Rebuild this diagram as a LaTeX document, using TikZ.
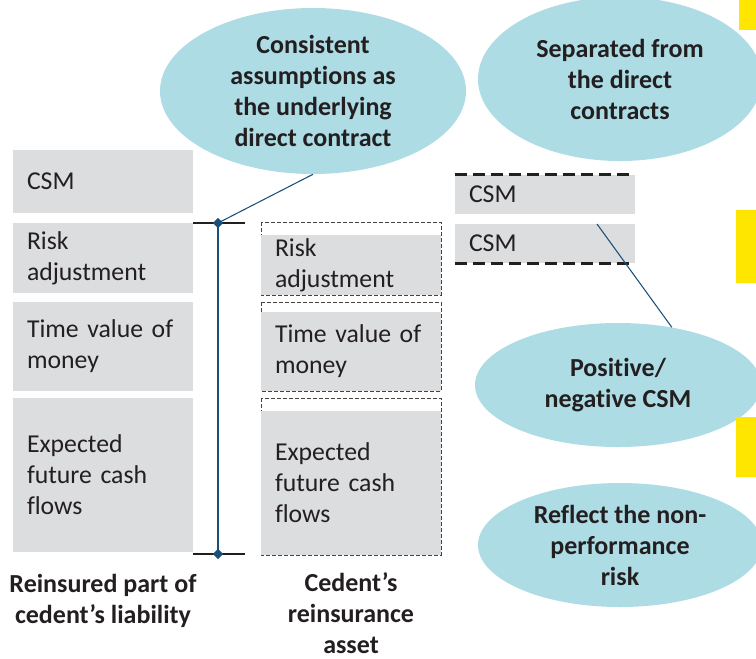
\documentclass[tikz,border=0pt]{standalone}
\usepackage{fontspec}
\setmainfont{Carlito}[Ligatures={NoCommon,NoContextual,NoRequired}]
\usetikzlibrary{shapes,calc}
\definecolor{boxgray}{HTML}{DCDDDF}
\definecolor{bubblefill}{HTML}{ADDCE5}
\definecolor{linkblue}{HTML}{1A4F7A}
\definecolor{ink}{HTML}{231F20}
\definecolor{marker}{HTML}{FFE600}
\tikzstyle{item}=[rectangle,fill=boxgray,minimum width=135pt,text width=114pt,inner xsep=10.5pt,inner ysep=0pt,align=left,text=ink,font=\fontsize{19.3}{23.25}\selectfont]
\tikzstyle{note}=[ellipse,fill=bubblefill,inner sep=-8pt,align=center,text=ink,font=\bfseries\fontsize{19.5}{23.25}\selectfont]
\tikzstyle{caption}=[align=center,inner sep=0pt,text=ink,font=\bfseries\fontsize{19.5}{23.25}\selectfont]
\tikzstyle{dashbox}=[draw=ink!85,dash pattern=on 3pt off 1.5pt,line width=0.6pt]
\tikzstyle{bigdash}=[draw=ink,dash pattern=on 9pt off 4.5pt,line width=2.2pt]
\tikzstyle{link}=[draw=linkblue,line width=0.8pt]
\tikzstyle{endmark}=[diamond,fill=linkblue,minimum size=8pt,inner sep=0pt]

\begin{document}
\begin{tikzpicture}[x=0.75pt,y=-0.75pt]

   \useasboundingbox (0,0) rectangle (756,658);

    % reinsured part of the liability
    \foreach \pos/ \name / \hgt / \label in {(103,181.5)/lcsm/47.25pt/CSM,
        (103,258)/lrisk/52.5pt/{Risk\\adjustment},
        (103,346.5)/ltime/66.75pt/{Time value of\\money},
        (103,475)/lcash/115.5pt/{Expected\\future cash\\flows}}
        \node[item,minimum height=\hgt] (\name) at \pos {\label};

    % reinsurance asset, dashed frames first
    \foreach \ya/ \yb in {222/295, 302/391, 398/555}
        \draw[dashbox] (261,\ya) rectangle (441,\yb);
    \foreach \pos/ \name / \hgt / \label in {(351,265)/mrisk/45pt/{Risk\\adjustment},
        (351,351.5)/mtime/59.25pt/{Time value of\\money},
        (351,483)/mcash/108pt/{Expected\\future cash\\flows}}
        \node[item,minimum height=\hgt] (\name) at \pos {\label};

    % the two CSM boxes
    \foreach \pos/ \name in {(545,194.5)/rcsmA, (545,243.5)/rcsmB}
        \node[item,minimum height=29.25pt] (\name) at \pos {CSM};
    \draw[bigdash] (rcsmA.north west) -- ++(175,0);
    \draw[bigdash] (rcsmB.south west) -- ++(175,0);

    % bubbles (kern keeps t and i apart)
    \node[note,minimum width=229.5pt,minimum height=124.5pt] (consistent) at (313,91)
        {Consistent\\assump\kern0pt t\kern0pt ions as\\the underlying\\direct contract};
    \node[note,minimum width=213pt,minimum height=123pt] (separated) at (620,79)
        {Separated from\\the direct\\contracts};
    \node[note,minimum width=214.5pt,minimum height=93pt] (posneg) at (618,385)
        {Positive/\\negat\kern0pt ive CSM};
    \node[note,minimum width=213pt,minimum height=93pt] (nonperf) at (620,545)
        {Reflect the non-\\performance\\risk};

    % bracket over the reinsured part
    \coordinate (brtop) at (218,223);
    \coordinate (brbot) at (218,554);
    \draw[ink,line width=2.2pt] (brtop) ++(-25,0) -- ++(52,0);
    \draw[ink,line width=2.2pt] (brbot) ++(-25,0) -- ++(52,0);
    \draw[link,line width=1.5pt] (brtop) -- (brbot);
    \node[endmark] (dtop) at (brtop) {};
    \node[endmark] (dbot) at (brbot) {};

    % Connect the bubbles
    \coordinate (csmtick) at (597,224);
    \draw[link] (dtop.center) -- (consistent.south);
    \draw[link] (csmtick) -- (posneg.47);

    % side markers
    \fill[marker] (739,0) rectangle (756,30);
    \fill[marker] (736,210) rectangle (756,283);
    \fill[marker] (736,417) rectangle (756,477);

   \node[caption] (liabcap) at (103,600.5) {Reinsured part of\\cedent’s liability};
   \node[caption] (assetcap) at (351,613) {Cedent’s\\reinsurance\\asset};

\end{tikzpicture}
\end{document}
